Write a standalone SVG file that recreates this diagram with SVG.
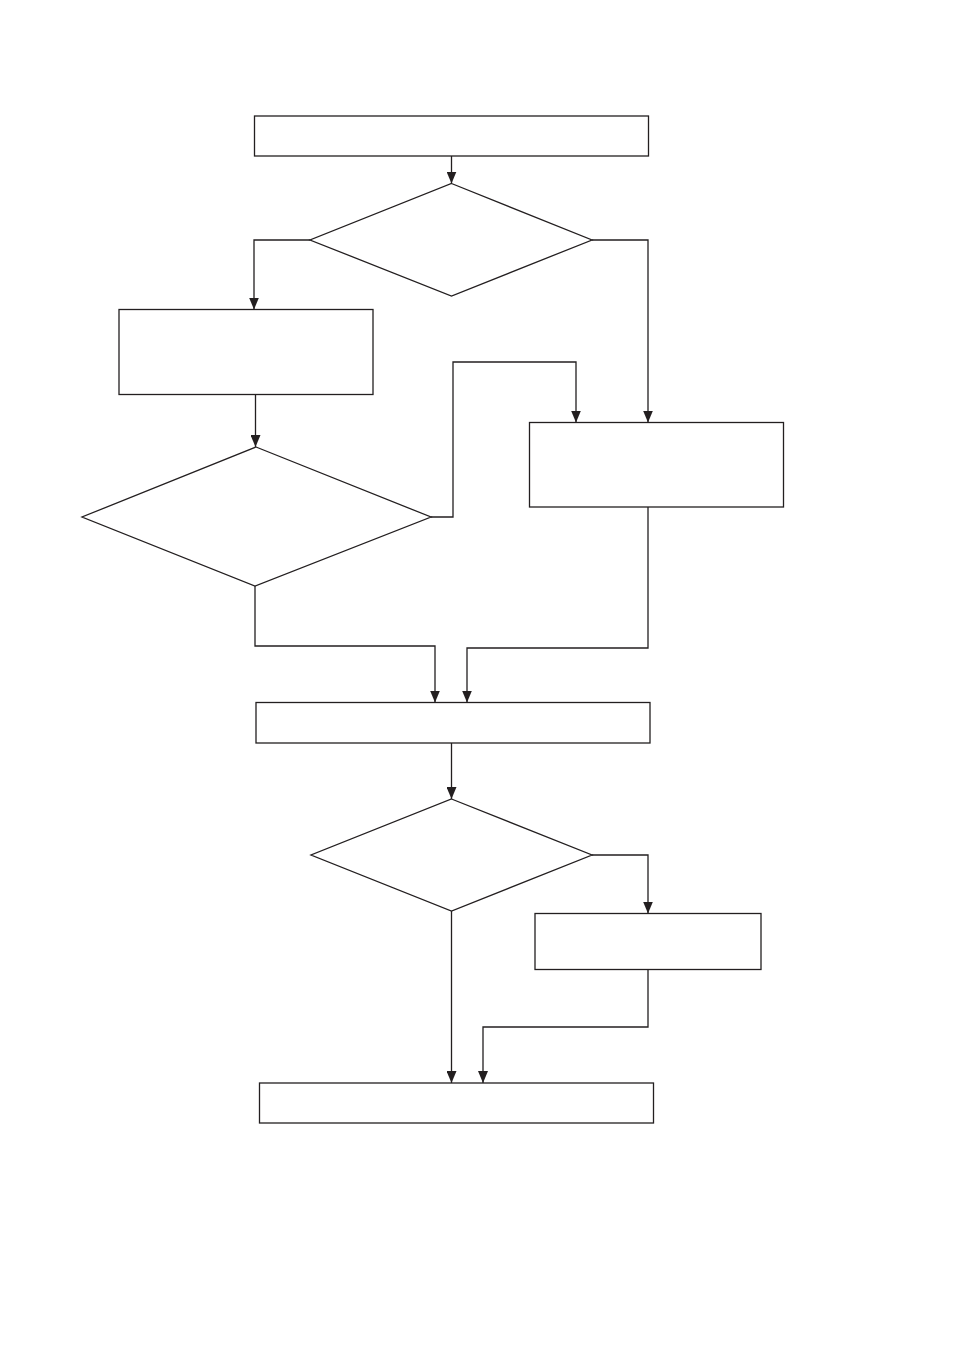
<svg xmlns="http://www.w3.org/2000/svg" width="954" height="1346" viewBox="0 0 954 1346">
<style>
.n{fill:#fff;stroke:#231f20;stroke-width:1.3}
.c{fill:none;stroke:#231f20;stroke-width:1.3}
</style>
<defs>
<marker id="ah" markerUnits="userSpaceOnUse" markerWidth="10" markerHeight="12" viewBox="0 0 10 12" refX="5" refY="12" orient="auto-start-reverse">
<path d="M0,0 L10,0 L5,12 Z" fill="#231f20" transform="rotate(-90 5 6) translate(0 0)"/>
</marker>
<marker id="a" markerUnits="userSpaceOnUse" markerWidth="12" markerHeight="10" viewBox="0 0 12 10" refX="12" refY="5" orient="auto">
<path d="M0,0 L12,5 L0,10 Z" fill="#231f20"/>
</marker>
</defs>
<rect width="954" height="1346" fill="#fff"/>
<g id="connectors">
<path class="c" d="M451.5,156 V183.5" marker-end="url(#a)"/>
<path class="c" d="M310,240 H254 V309.5" marker-end="url(#a)"/>
<path class="c" d="M592,240 H648 V422.5" marker-end="url(#a)"/>
<path class="c" d="M255.5,394.5 V447" marker-end="url(#a)"/>
<path class="c" d="M431,517 H453 V362 H576 V422.5" marker-end="url(#a)"/>
<path class="c" d="M648,507 V648 H467 V702.5" marker-end="url(#a)"/>
<path class="c" d="M255,586 V646 H435 V702.5" marker-end="url(#a)"/>
<path class="c" d="M451.5,743 V799" marker-end="url(#a)"/>
<path class="c" d="M592,855 H648 V913.5" marker-end="url(#a)"/>
<path class="c" d="M648,969.5 V1027 H483 V1083" marker-end="url(#a)"/>
<path class="c" d="M451.5,911 V1083" marker-end="url(#a)"/>
</g>
<g id="start"><rect class="n" x="254.5" y="116" width="394" height="40"/></g>
<g id="decision1"><polygon class="n" points="451.5,183.5 592,240 451.5,296 310,240"/></g>
<g id="process1"><rect class="n" x="119" y="309.5" width="254" height="85"/></g>
<g id="decision2"><polygon class="n" points="256,447 431,517 255,586 82,517"/></g>
<g id="process2"><rect class="n" x="529.5" y="422.5" width="254" height="84.5"/></g>
<g id="process3"><rect class="n" x="256" y="702.5" width="394" height="40.5"/></g>
<g id="decision3"><polygon class="n" points="451.5,799 592,855 451.5,911 311,855"/></g>
<g id="process4"><rect class="n" x="535" y="913.5" width="226" height="56"/></g>
<g id="end"><rect class="n" x="259.5" y="1083" width="394" height="40"/></g>
</svg>
